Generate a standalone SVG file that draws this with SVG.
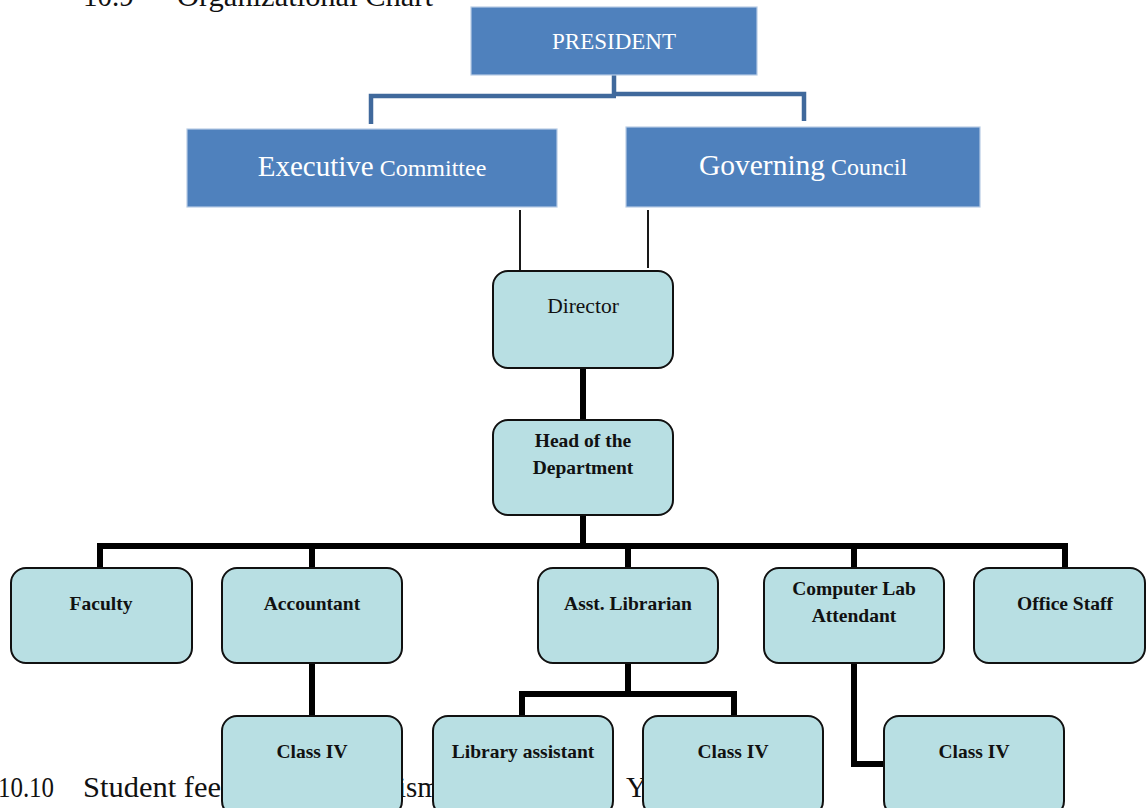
<svg xmlns="http://www.w3.org/2000/svg" width="1146" height="808" viewBox="0 0 1146 808">
<style>
.page{font-family:"Liberation Serif","Times New Roman",serif;font-size:29px;fill:#111}
.blue{fill:#4F81BD;stroke:#B8CCE4;stroke-width:1.2}
.wt{font-family:"Liberation Serif","Times New Roman",serif;fill:#fff;text-anchor:middle}
.tb{fill:#B8DFE3;stroke:#111;stroke-width:2}
.lb{font-family:"Liberation Serif","Times New Roman",serif;font-weight:bold;font-size:19.5px;fill:#111;text-anchor:middle}
.lr{font-family:"Liberation Serif","Times New Roman",serif;font-size:21.5px;fill:#111;text-anchor:middle}
.thick{fill:none;stroke:#000;stroke-width:6}
.thin{fill:none;stroke:#000;stroke-width:1.8}
.bl{fill:none;stroke:#40699C;stroke-width:4.5}
</style>
<rect width="1146" height="808" fill="#fff"/>
<g id="page-text">
<text class="page" x="83" y="6">10.9</text>
<text class="page" x="177" y="6" textLength="256" lengthAdjust="spacingAndGlyphs">Organizational Chart</text>
<text class="page" x="-2" y="797" textLength="56" lengthAdjust="spacingAndGlyphs">10.10</text>
<text class="page" x="83" y="797" textLength="138" lengthAdjust="spacingAndGlyphs">Student fee</text>
<text class="page" x="398" y="797">ism</text>
<text class="page" x="626" y="797">Y</text>
</g>
<g id="connectors">
<path class="bl" d="M614 75 V96 M371 124 V96 H616 M612 94 H804 V121"/>
<path class="thin" d="M520 210 V271 M648 210 V268"/>
<path class="thick" d="M583 368 V420 M583 515 V546 M100 568 V546 H1065 V568 M312 546 V568 M628 546 V568 M854 546 V568"/>
<path class="thick" d="M312 663 V716 M628 663 V694 M522 716 V694 H734 V716 M854 663 V764 H884"/>
</g>
<g id="president">
<rect class="blue" x="471" y="7" width="286" height="68"/>
<text class="wt" x="614" y="49" font-size="23">PRESIDENT</text>
</g>
<g id="executive-committee">
<rect class="blue" x="187" y="129" width="370" height="78"/>
<text class="wt" x="372" y="176"><tspan font-size="29">Executive</tspan><tspan font-size="24"> Committee</tspan></text>
</g>
<g id="governing-council">
<rect class="blue" x="626" y="127" width="354" height="80"/>
<text class="wt" x="803" y="175"><tspan font-size="29.5">Governing</tspan><tspan font-size="24"> Council</tspan></text>
</g>
<g id="director">
<rect class="tb" x="493" y="271" width="180" height="97" rx="15"/>
<text class="lr" x="583" y="313">Director</text>
</g>
<g id="head-of-department">
<rect class="tb" x="493" y="420" width="180" height="95" rx="15"/>
<text class="lb" x="583" y="447">Head of the</text>
<text class="lb" x="583" y="474">Department</text>
</g>
<g id="faculty">
<rect class="tb" x="11" y="568" width="181" height="95" rx="15"/>
<text class="lb" x="101" y="610">Faculty</text>
</g>
<g id="accountant">
<rect class="tb" x="222" y="568" width="180" height="95" rx="15"/>
<text class="lb" x="312" y="610">Accountant</text>
</g>
<g id="asst-librarian">
<rect class="tb" x="538" y="568" width="180" height="95" rx="15"/>
<text class="lb" x="628" y="610">Asst. Librarian</text>
</g>
<g id="computer-lab-attendant">
<rect class="tb" x="764" y="568" width="180" height="95" rx="15"/>
<text class="lb" x="854" y="595">Computer Lab</text>
<text class="lb" x="854" y="622">Attendant</text>
</g>
<g id="office-staff">
<rect class="tb" x="974" y="568" width="171" height="95" rx="15"/>
<text class="lb" x="1065" y="610">Office Staff</text>
</g>
<g id="class-iv-accounts">
<rect class="tb" x="222" y="716" width="180" height="100" rx="15"/>
<text class="lb" x="312" y="758">Class IV</text>
</g>
<g id="library-assistant">
<rect class="tb" x="433" y="716" width="180" height="100" rx="15"/>
<text class="lb" x="523" y="758">Library assistant</text>
</g>
<g id="class-iv-library">
<rect class="tb" x="643" y="716" width="180" height="100" rx="15"/>
<text class="lb" x="733" y="758">Class IV</text>
</g>
<g id="class-iv-lab">
<rect class="tb" x="884" y="716" width="180" height="100" rx="15"/>
<text class="lb" x="974" y="758">Class IV</text>
</g>
</svg>
